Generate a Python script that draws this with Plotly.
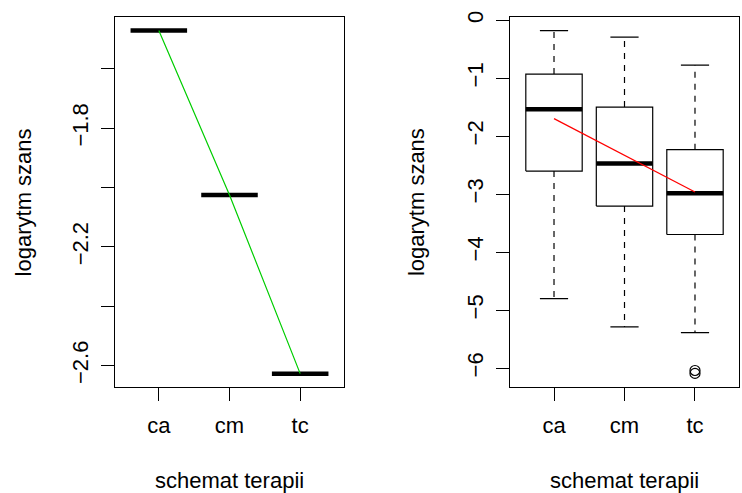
import plotly.graph_objects as go

# ---- data ----
categories = ["ca", "cm", "tc"]
cat_pos = [1, 2, 3]

# left panel: mean log-odds per therapy
mean_logit = [-1.471, -2.025, -2.627]

# right panel: box statistics per therapy
whisker_high = [-0.178, -0.29, -0.775]
box_q3 = [-0.929, -1.498, -2.232]
box_median = [-1.537, -2.471, -2.983]
box_q1 = [-2.602, -3.205, -3.695]
whisker_low = [-4.80, -5.289, -5.386]
outliers_tc = [-6.04, -6.09]
trend_right = [-1.697, -2.33, -2.961]

left_yticks = [-2.6, -2.4, -2.2, -2.0, -1.8, -1.6]
left_yticklabels = ["\u22122.6", "", "\u22122.2", "", "\u22121.8", ""]
right_yticks = [-6, -5, -4, -3, -2, -1, 0]
right_yticklabels = ["\u22126", "\u22125", "\u22124", "\u22123", "\u22122", "\u22121", "0"]

FONT = "Liberation Sans, Arial, Helvetica, sans-serif"
FS = 22
W, H = 742, 493

fig = go.Figure()

# ---- left panel ----
sx, sy = [], []
for p, m in zip(cat_pos, mean_logit):
    sx += [p - 0.4, p + 0.4, None]
    sy += [m, m, None]
fig.add_trace(go.Scatter(x=sx, y=sy, mode="lines", line=dict(color="black", width=4.5),
                         xaxis="x", yaxis="y", showlegend=False, hoverinfo="skip"))
fig.add_trace(go.Scatter(x=cat_pos, y=mean_logit, mode="lines", line=dict(color="#00CD00", width=1.2),
                         xaxis="x", yaxis="y", showlegend=False))

# ---- right panel ----
bx, by = [], []
for p, q1, q3 in zip(cat_pos, box_q1, box_q3):
    bx += [p - 0.4, p + 0.4, p + 0.4, p - 0.4, p - 0.4, None]
    by += [q1, q1, q3, q3, q1, None]
wx, wy = [], []
for p, q1, q3, lo, hi in zip(cat_pos, box_q1, box_q3, whisker_low, whisker_high):
    wx += [p, p, None, p, p, None]
    wy += [q3, hi, None, q1, lo, None]
cx, cy = [], []
for p, lo, hi in zip(cat_pos, whisker_low, whisker_high):
    cx += [p - 0.2, p + 0.2, None, p - 0.2, p + 0.2, None]
    cy += [hi, hi, None, lo, lo, None]
mx, my = [], []
for p, md in zip(cat_pos, box_median):
    mx += [p - 0.4, p + 0.4, None]
    my += [md, md, None]

fig.add_trace(go.Scatter(x=wx, y=wy, mode="lines", line=dict(color="black", width=1.2, dash="6px,6px"),
                         xaxis="x2", yaxis="y2", showlegend=False, hoverinfo="skip"))
fig.add_trace(go.Scatter(x=cx, y=cy, mode="lines", line=dict(color="black", width=1.2),
                         xaxis="x2", yaxis="y2", showlegend=False, hoverinfo="skip"))
fig.add_trace(go.Scatter(x=bx, y=by, mode="lines", line=dict(color="black", width=1.2),
                         fill="toself", fillcolor="white",
                         xaxis="x2", yaxis="y2", showlegend=False, hoverinfo="skip"))
fig.add_trace(go.Scatter(x=mx, y=my, mode="lines", line=dict(color="black", width=4.5),
                         xaxis="x2", yaxis="y2", showlegend=False, hoverinfo="skip"))
fig.add_trace(go.Scatter(x=[3] * len(outliers_tc), y=outliers_tc, mode="markers",
                         marker=dict(symbol="circle-open", size=10, color="black", line=dict(width=1.2)),
                         xaxis="x2", yaxis="y2", showlegend=False))
fig.add_trace(go.Scatter(x=cat_pos, y=trend_right, mode="lines", line=dict(color="red", width=1.2),
                         xaxis="x2", yaxis="y2", showlegend=False))

axis_common = dict(showline=True, mirror=True, linecolor="black", linewidth=1.2,
                   ticks="outside", ticklen=13, tickwidth=1.2, tickcolor="black",
                   showgrid=False, zeroline=False,
                   tickfont=dict(family=FONT, size=FS, color="black"))

ybot, ytop = 1 - 386 / H, 1 - 11 / H
fig.update_layout(
    width=W, height=H,
    margin=dict(l=0, r=0, t=0, b=0),
    paper_bgcolor="white", plot_bgcolor="white",
    font=dict(family=FONT, size=FS, color="black"),
    xaxis=dict(domain=[115 / W, 344 / W], range=[0.38, 3.62], tickvals=cat_pos, ticktext=categories,
               anchor="y", ticklabelstandoff=5, **axis_common),
    yaxis=dict(domain=[ybot, ytop], range=[-2.673, -1.425], tickvals=left_yticks,
               ticktext=left_yticklabels, tickangle=-90, anchor="x", ticklabelstandoff=4, **axis_common),
    xaxis2=dict(domain=[510.3 / W, 738.7 / W], range=[0.38, 3.62], tickvals=cat_pos, ticktext=categories,
                anchor="y2", ticklabelstandoff=5, **axis_common),
    yaxis2=dict(domain=[ybot, ytop], range=[-6.33, 0.058], tickvals=right_yticks,
                ticktext=right_yticklabels, tickangle=-90, anchor="x2", ticklabelstandoff=4, **axis_common),
    annotations=[
        dict(text="schemat terapii", x=229.5 / W, y=1 - 480 / H, xref="paper", yref="paper",
             showarrow=False, xanchor="center", yanchor="middle", font=dict(family=FONT, size=FS)),
        dict(text="schemat terapii", x=624.5 / W, y=1 - 480 / H, xref="paper", yref="paper",
             showarrow=False, xanchor="center", yanchor="middle", font=dict(family=FONT, size=FS)),
        dict(text="logarytm szans", x=23.3 / W, y=1 - 198.5 / H, xref="paper", yref="paper",
             showarrow=False, xanchor="center", yanchor="middle", textangle=-90, font=dict(family=FONT, size=FS)),
        dict(text="logarytm szans", x=416 / W, y=1 - 198.5 / H, xref="paper", yref="paper",
             showarrow=False, xanchor="center", yanchor="middle", textangle=-90, font=dict(family=FONT, size=FS)),
    ],
)

fig.write_html("out.html", config={"displayModeBar": False},
               post_script="document.body.style.margin='0';document.body.style.overflow='hidden';")
